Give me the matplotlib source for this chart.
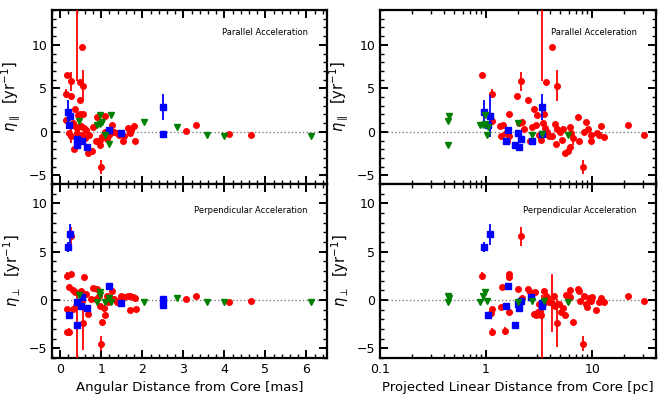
import numpy as np
import matplotlib.pyplot as plt
from matplotlib.ticker import MultipleLocator, LogLocator, FuncFormatter, NullFormatter

# (x, eta, err); err 0 -> bar hidden under marker
# ---- left column: angular distance [mas] ----
red_mas_par = [
    (0.16, 6.5, 0), (0.14, 4.4, 0.5), (0.27, 5.8, 1.1), (0.26, 4.1, 0), (0.52, 9.8, 0),
    (0.48, 5.7, 0), (0.56, 5.3, 1.8), (0.49, 3.6, 0), (0.35, 2.6, 0), (0.44, 1.9, 0),
    (0.48, 2.1, 0), (0.56, 2.0, 0), (0.15, 1.3, 0), (0.26, 0.8, 0), (0.32, 1.0, 0),
    (0.38, 0.6, 0), (0.44, 0.5, 0), (0.50, 0.7, 0), (0.58, 0.4, 0), (0.63, 0.2, 0),
    (0.22, -0.15, 0), (0.26, -0.5, 0.8), (0.34, -2.0, 0), (0.42, -0.15, 0), (0.48, -0.5, 0),
    (0.54, -0.35, 0), (0.60, -0.7, 0), (0.68, -2.4, 0), (0.78, -2.15, 0), (0.70, -0.35, 0),
    (0.80, 0.6, 0), (0.90, 1.7, 0), (0.94, -1.0, 0), (0.86, -1.1, 0), (0.97, -1.5, 0),
    (1.00, -4.0, 0.8), (1.05, -0.5, 0), (1.08, 0.0, 0), (1.10, 1.8, 0), (1.15, -0.85, 0),
    (1.19, -0.35, 0), (1.23, 0.0, 0), (1.27, 0.8, 0), (1.32, 0.0, 0), (1.39, -0.15, 0),
    (1.44, -0.35, 0), (1.52, -1.1, 0), (1.56, -0.5, 0), (1.65, 0.4, 0), (1.69, -0.15, 0),
    (1.73, 0.2, 0), (1.79, 0.7, 0), (1.83, -1.0, 0), (3.06, 0.1, 0), (3.30, 0.8, 0),
    (4.11, -0.2, 0), (4.65, -0.35, 0), (0.98, -0.9, 0.5), (0.41, 19.0, 13.2),
]
blue_mas_par = [
    (0.20, 2.3, 1.4), (0.24, 1.8, 0.6), (0.21, 0.8, 0), (0.40, -0.85, 0), (0.42, -1.55, 0),
    (0.52, -1.1, 0), (0.66, -1.75, 0), (1.19, 0.25, 0), (1.49, -0.1, 0), (2.50, 2.85, 1.55),
    (2.50, -0.3, 0),
]
green_mas_par = [
    (0.46, 1.2), (0.98, 1.9), (0.90, 0.8), (0.96, 0.9), (1.02, 1.1), (1.08, -0.35),
    (1.19, -1.4), (1.24, 1.9), (2.05, 1.1), (2.85, 0.55), (3.58, -0.35), (3.99, -0.45),
    (6.12, -0.45),
]

red_mas_perp = [
    (0.26, 6.6, 1.0), (0.16, 2.5, 0.4), (0.26, 2.7, 0), (0.58, 2.4, 0), (0.22, 1.3, 0),
    (0.30, 1.0, 0), (0.35, 0.8, 0), (0.55, -2.4, 2.8), (0.16, -0.9, 0), (0.22, -3.3, 0.4),
    (0.16, -3.3, 0), (0.30, -0.9, 0), (0.38, -0.65, 0), (0.46, -0.4, 0), (0.54, -0.1, 0),
    (0.62, 0.6, 0), (0.68, -1.45, 0.3), (0.74, 0.1, 0), (0.80, 1.2, 0), (0.86, 0.1, 0),
    (0.90, 1.1, 0), (0.94, 0.45, 0), (0.98, -0.6, 0), (1.02, -2.3, 0), (1.00, -4.5, 0.8),
    (1.06, -0.85, 0), (1.09, -1.6, 0), (1.13, 0.45, 0), (1.16, -0.25, 0), (1.23, 0.1, 0),
    (1.27, 0.95, 0), (1.32, 0.15, 0), (1.39, -0.17, 0), (1.44, -0.07, 0), (1.49, 0.37, 0),
    (1.55, 0.27, 0), (1.65, 0.45, 0), (1.71, 0.37, 0), (1.77, 0.27, 0), (1.81, 0.17, 0),
    (1.71, -1.0, 0), (1.84, -0.93, 0), (3.06, 0.1, 0), (3.30, 0.38, 0), (4.11, -0.24, 0),
    (4.65, -0.07, 0), (0.41, -10.0, 10.5), (0.50, 0.9, 0), (0.44, -0.2, 0),
]
blue_mas_perp = [
    (0.20, 5.5, 0.5), (0.24, 6.8, 1.1), (0.22, -1.55, 0), (0.40, -0.17, 0), (0.41, -2.6, 0),
    (0.52, 0.27, 0), (0.50, -0.6, 0), (0.66, -0.85, 0), (1.19, 1.48, 0), (1.49, -0.35, 0),
    (2.50, 0.1, 0), (2.50, -0.5, 0.4),
]
green_mas_perp = [
    (0.46, 0.5), (0.96, 0.5), (0.98, 0.8), (0.90, -0.17), (1.08, -0.17), (1.19, 0.17),
    (1.24, -0.17), (2.05, -0.17), (2.85, 0.17), (3.58, -0.17), (3.99, -0.24), (6.12, -0.24),
]

# ---- right column: projected linear distance [pc] ----
red_pc_par = [
    (0.92, 6.5, 0), (1.13, 4.4, 0.5), (1.13, 1.2, 0), (2.13, 5.8, 1.1), (1.94, 4.1, 0),
    (2.46, 3.7, 0), (1.63, 2.0, 0), (2.84, 2.6, 0), (3.03, 1.9, 0), (3.65, 5.7, 0),
    (4.15, 9.8, 0), (4.70, 5.3, 1.8), (3.40, 19.0, 13.2), (3.55, 2.0, 0), (1.36, 0.7, 0),
    (1.43, 0.8, 0), (1.38, -0.5, 0), (1.54, -0.1, 0), (1.63, -0.5, 0), (1.56, -1.1, 0),
    (2.05, 1.0, 0), (2.17, 1.1, 0), (2.29, 0.3, 0), (2.60, -1.1, 0), (2.70, 0.6, 0),
    (2.94, 0.8, 0), (3.16, -0.35, 0), (3.27, -0.9, 0), (3.45, 1.0, 0), (3.60, 0.4, 0),
    (3.78, 0.0, 0), (3.92, -0.5, 0), (4.20, -0.5, 0), (4.45, 0.9, 0), (4.56, -1.4, 0),
    (4.70, 0.3, 0), (4.93, 0.0, 0), (5.15, -0.9, 0), (5.30, 0.3, 0), (5.50, -2.4, 0),
    (5.96, -2.25, 0), (6.13, -1.7, 0), (6.15, 0.55, 0), (6.30, -0.15, 0), (6.60, -0.7, 0.8),
    (7.34, 1.7, 0), (7.50, -1.1, 0), (8.17, -4.0, 0.8), (8.35, 0.0, 0), (8.78, 1.1, 0),
    (9.10, 0.3, 0), (9.70, -0.35, 0), (9.80, -1.1, 0), (11.1, -0.1, 0), (11.5, -0.35, 0),
    (12.1, 0.7, 0), (12.8, -0.55, 0), (22.0, 0.8, 0), (31.0, -0.35, 0),
]
blue_pc_par = [
    (0.96, 2.3, 1.4), (1.09, 1.8, 2.4), (1.04, 0.8, 0), (1.54, -1.1, 0), (1.60, 0.25, 0),
    (2.01, -0.1, 0), (1.88, -1.55, 0), (2.13, -0.85, 0), (2.05, -1.8, 0), (2.70, -1.1, 0),
    (3.35, 2.85, 1.55), (3.40, -0.3, 0),
]
green_pc_par = [
    (0.437, 1.2), (0.45, 1.85), (0.44, -1.5), (0.88, 0.75), (0.94, 0.8), (0.98, 0.9),
    (0.97, 1.9), (1.05, 0.6), (1.03, -0.35), (2.02, 1.0), (2.70, -0.4), (3.40, -0.3),
    (5.96, -0.4),
]

red_pc_perp = [
    (0.92, 2.5, 0.4), (1.13, -3.3, 0.4), (1.13, -0.9, 0), (1.11, -1.3, 0), (2.13, 6.6, 1.0),
    (1.63, 2.7, 0), (1.65, 2.4, 0), (1.52, -3.2, 0.4), (1.41, 1.3, 0), (1.38, -0.75, 0),
    (1.63, -1.27, 0), (2.17, 0.17, 0), (1.98, 1.1, 0), (2.46, 1.1, 0), (2.60, 0.85, 0),
    (2.84, -1.45, 0), (2.98, -1.6, 0), (3.10, -1.2, 0), (3.25, -1.1, 0), (3.16, -0.4, 0),
    (3.30, -1.55, 0), (3.45, -0.4, 0), (3.52, 0.95, 0), (3.65, 0.38, 0), (3.78, 0.27, 0),
    (3.92, -0.24, 0), (4.20, -0.3, 3.0), (4.37, 0.45, 0), (4.50, -0.6, 0), (4.70, -2.4, 2.5),
    (4.86, -0.4, 0), (5.10, -1.2, 0), (5.30, -0.85, 0), (5.50, -1.6, 0), (5.62, 0.5, 0),
    (6.13, 1.05, 0), (6.25, 0.35, 0), (6.60, -2.3, 0), (7.34, 1.1, 0), (7.60, 0.95, 0),
    (7.70, -0.07, 0), (8.17, -4.5, 0.8), (8.35, 0.38, 0), (8.70, -0.4, 0), (9.00, -0.75, 0),
    (9.30, 0.17, 0), (9.70, -0.07, 0), (9.90, 0.27, 0), (10.8, -1.0, 0), (11.5, -0.24, 0),
    (12.0, 0.17, 0), (12.8, -0.24, 0), (22.0, 0.38, 0), (31.0, -0.07, 0), (3.40, -10.0, 10.5),
    (2.70, 0.6, 0), (2.90, 0.8, 0),
]
blue_pc_perp = [
    (0.95, 5.5, 0.5), (1.09, 6.8, 1.1), (1.04, -1.55, 0), (1.54, -0.6, 0), (1.60, 1.48, 0),
    (1.88, -2.6, 0), (2.01, -0.4, 0), (2.05, -0.85, 0), (2.15, -0.07, 0), (2.68, 0.27, 0),
    (3.35, -0.35, 0), (3.40, -0.6, 0),
]
green_pc_perp = [
    (0.437, 0.45), (0.45, 0.17), (0.437, -0.17), (0.87, -0.17), (0.97, 0.8), (0.94, 0.38),
    (1.03, -0.07), (2.02, -0.17), (2.70, -0.07), (3.50, -0.07), (5.96, -0.24),
]

plt.rcParams['font.family'] = 'DejaVu Sans'

fig = plt.figure(figsize=(6.64, 3.99), dpi=100)
W, H = 664, 399


def make_ax(x0, x1, y0, y1):
    return fig.add_axes([x0 / W, 1 - y1 / H, (x1 - x0) / W, (y1 - y0) / H])


ax_lt = make_ax(52, 327, 10, 184)
ax_lb = make_ax(52, 327, 184, 358)
ax_rt = make_ax(380, 656, 10, 184)
ax_rb = make_ax(380, 656, 184, 358)


def draw(ax, red, blue, green):
    ax.axhline(0, color='gray', ls=':', lw=1, zorder=1)
    x, y, e = zip(*red)
    ax.errorbar(x, y, yerr=e, fmt='o', color='red', ms=4, elinewidth=1.3,
                capsize=0, zorder=3)
    x, y, e = zip(*blue)
    ax.errorbar(x, y, yerr=e, fmt='s', color='blue', ms=3.8, elinewidth=1.3,
                capsize=0, zorder=4)
    x, y = zip(*green)
    ax.plot(x, y, 'v', color='green', ms=4.2, zorder=5, ls='none')


draw(ax_lt, red_mas_par, blue_mas_par, green_mas_par)
draw(ax_lb, red_mas_perp, blue_mas_perp, green_mas_perp)
draw(ax_rt, red_pc_par, blue_pc_par, green_pc_par)
draw(ax_rb, red_pc_perp, blue_pc_perp, green_pc_perp)

for ax in (ax_lt, ax_lb, ax_rt, ax_rb):
    for s in ax.spines.values():
        s.set_linewidth(1.6)
    ax.tick_params(which='both', direction='in', top=True, right=True, labelsize=9)
    ax.tick_params(which='major', length=6, width=1.4)
    ax.tick_params(which='minor', length=3, width=1.0)
    ax.yaxis.set_major_locator(MultipleLocator(5))
    ax.yaxis.set_minor_locator(MultipleLocator(1))

for ax in (ax_lt, ax_lb):
    ax.set_xlim(-0.2, 6.5)
    ax.xaxis.set_major_locator(MultipleLocator(1))
    ax.xaxis.set_minor_locator(MultipleLocator(0.2))

for ax in (ax_rt, ax_rb):
    ax.set_xscale('log')
    ax.set_xlim(0.1, 40)
    ax.xaxis.set_major_locator(LogLocator(base=10))
    ax.xaxis.set_minor_locator(LogLocator(base=10, subs=np.arange(2, 10)))
    ax.xaxis.set_minor_formatter(NullFormatter())
    ax.xaxis.set_major_formatter(FuncFormatter(lambda v, p: f'{v:g}'))

for ax in (ax_lt, ax_rt):
    ax.set_ylim(-6, 14)
    ax.tick_params(labelbottom=False)
    ax.set_ylabel(r'$\eta_{\parallel}$  [yr$^{-1}$]', fontsize=10.5)
    ax.text(0.93, 0.87, 'Parallel Acceleration', transform=ax.transAxes,
            ha='right', va='center', fontsize=6)

for ax in (ax_lb, ax_rb):
    ax.set_ylim(-6, 12)
    ax.set_ylabel(r'$\eta_{\perp}$  [yr$^{-1}$]', fontsize=10.5)
    ax.text(0.93, 0.85, 'Perpendicular Acceleration', transform=ax.transAxes,
            ha='right', va='center', fontsize=6)

ax_lb.set_xlabel('Angular Distance from Core [mas]', fontsize=9.5)
ax_rb.set_xlabel('Projected Linear Distance from Core [pc]', fontsize=9.5)

fig.savefig('out.png', dpi=100)
